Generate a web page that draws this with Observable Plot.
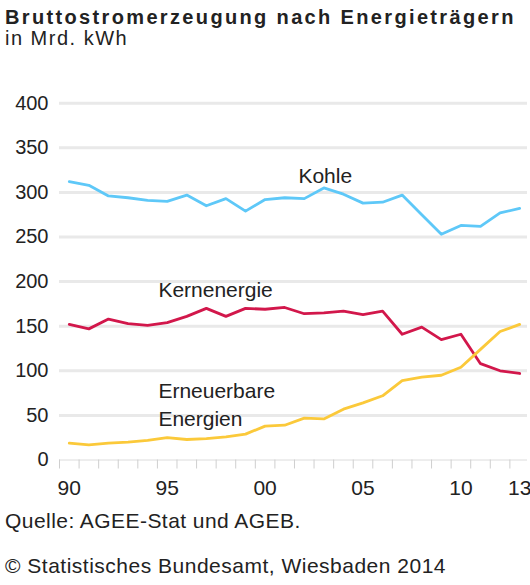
<!DOCTYPE html>
<html>
<head>
<meta charset="utf-8">
<script src="https://cdn.jsdelivr.net/npm/d3@7"></script>
<script src="https://cdn.jsdelivr.net/npm/@observablehq/plot@0.6"></script>
<style>
  html, body { margin: 0; padding: 0; background: #fff; }
  #wrap { position: relative; width: 530px; height: 585px; overflow: hidden; font-family: "Liberation Sans", Arial, sans-serif; color: #222; }
  #wrap svg { position: absolute; left: 0; top: 0; }
  .t { position: absolute; left: 5px; white-space: nowrap; }
  #title { top: 7px; font-size: 20px; line-height: 20px; font-weight: bold; letter-spacing: 2.35px; }
  #subtitle { top: 28px; font-size: 20px; line-height: 20px; letter-spacing: 1.5px; }
  #source { top: 510px; font-size: 21px; line-height: 21px; letter-spacing: 0.45px; }
  #copy { top: 555px; font-size: 21px; line-height: 21px; letter-spacing: 0.5px; }
</style>
</head>
<body>
<div id="wrap">
  <div id="chart"></div>
  <div class="t" id="title">Bruttostromerzeugung nach Energieträgern</div>
  <div class="t" id="subtitle">in Mrd. kWh</div>
  <div class="t" id="source">Quelle: AGEE-Stat und AGEB.</div>
  <div class="t" id="copy">© Statistisches Bundesamt, Wiesbaden 2014</div>
</div>
<script>
const years = d3.range(1990, 2014);
const kohle = [312, 308, 296, 294, 291, 290, 297, 285, 293, 279, 292, 294, 293, 305, 298, 288, 289, 297, 275, 253, 263, 262, 277, 282];
const kernenergie = [152, 147, 158, 153, 151, 154, 161, 170, 161, 170, 169, 171, 164, 165, 167, 163, 167, 141, 149, 135, 141, 108, 100, 97];
const erneuerbare = [19, 17, 19, 20, 22, 25, 23, 24, 26, 29, 38, 39, 47, 46, 57, 64, 72, 89, 93, 95, 104, 124, 144, 152];
const seriesNames = ["Kohle", "Kernenergie", "Erneuerbare Energien"];
const seriesColors = ["#5ec8f8", "#d2174b", "#fbc93a"];
const yTicks = [0, 50, 100, 150, 200, 250, 300, 350, 400];
const xLabelYears = [1990, 1995, 2000, 2005, 2010, 2013];
const xLabelText = ["90", "95", "00", "05", "10", "13"];
const seriesLabels = [
  {text: "Kohle", year: 2001.7, value: 311},
  {text: "Kernenergie", year: 1994.55, value: 182.5},
  {text: "Erneuerbare", year: 1994.55, value: 69},
  {text: "Energien", year: 1994.55, value: 38.5}
];

const rows = [];
[kohle, kernenergie, erneuerbare].forEach((vals, i) => {
  vals.forEach((v, j) => rows.push({series: seriesNames[i], year: years[j], value: v}));
});
const bandEdges = years.map(y => y - 0.5);
const labelMap = new Map(xLabelYears.map((y, i) => [y, xLabelText[i]]));

const plot = Plot.plot({
  width: 530,
  height: 585,
  marginTop: 102.7,
  marginBottom: 125.5,
  marginLeft: 59,
  marginRight: 3,
  style: {fontFamily: "'Liberation Sans', Arial, sans-serif", color: "#222", background: "transparent"},
  x: {domain: [1989.5, 2013.4]},
  y: {domain: [0, 400]},
  color: {domain: seriesNames, range: seriesColors},
  marks: [
    Plot.ruleY(yTicks.filter(d => d > 0), {stroke: "#e9e9e9", strokeWidth: 3}),
    Plot.ruleY([0], {stroke: "#dcdcdc", strokeWidth: 1}),
    Plot.axisX(bandEdges, {tickSize: 9, stroke: "#cfcfcf", tickFormat: () => "", label: null}),
    Plot.axisX(xLabelYears, {tickSize: 0, tickPadding: 20, fontSize: 21, tickFormat: d => labelMap.get(d), label: null, fill: "#222"}),
    Plot.axisY(yTicks, {tickSize: 0, tickPadding: 11, fontSize: 20, label: null, fill: "#222"}),
    Plot.line(rows, {x: "year", y: "value", z: "series", stroke: "series", strokeWidth: 2.8, strokeLinejoin: "round", strokeLinecap: "round"}),
    Plot.text(seriesLabels, {x: "year", y: "value", text: "text", textAnchor: "start", lineAnchor: "bottom", fontSize: 21, fill: "#222"})
  ]
});
document.getElementById("chart").appendChild(plot);
</script>
</body>
</html>
